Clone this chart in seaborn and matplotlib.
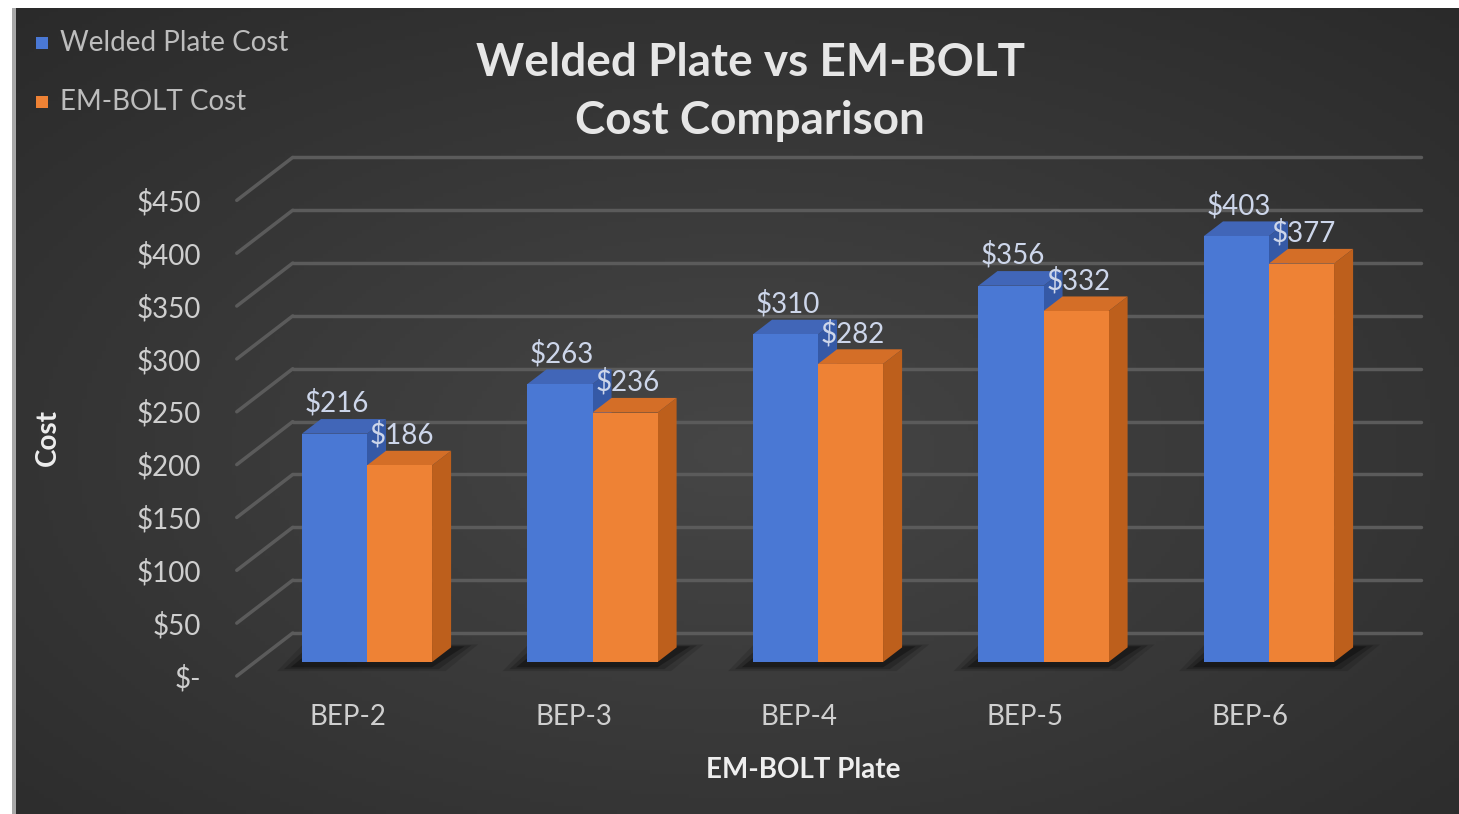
import numpy as np
import pandas as pd
import matplotlib
matplotlib.use("Agg")
import matplotlib.pyplot as plt
import seaborn as sns
from matplotlib.patches import Polygon, Rectangle
from matplotlib.transforms import ScaledTranslation

# ---- data ----
categories = ["BEP-2", "BEP-3", "BEP-4", "BEP-5", "BEP-6"]
welded_cost = [216, 263, 310, 356, 403]
embolt_cost = [186, 236, 282, 332, 377]
series_names = ["Welded Plate Cost", "EM-BOLT Cost"]
y_ticks = [0, 50, 100, 150, 200, 250, 300, 350, 400, 450]

df = pd.DataFrame({
    "Plate": categories * 2,
    "Series": [series_names[0]] * len(categories) + [series_names[1]] * len(categories),
    "Cost": welded_cost + embolt_cost,
})

sns.set_theme(style="white")
plt.rcParams["font.family"] = ["Lato", "DejaVu Sans"]

W, H, DPI = 1459, 814, 100
fig = plt.figure(figsize=(W / DPI, H / DPI), dpi=DPI)
fig.patch.set_facecolor("white")

# ---- background panel with soft radial gradient ----
bg = fig.add_axes([15 / W, 0, 1 - 15 / W, 1 - 8 / H])
bg.set_axis_off()
yy, xx = np.mgrid[0:1:200j, 0:1:300j]
r = np.sqrt(((xx - 0.5) / 0.75) ** 2 + ((yy - 0.45) / 0.75) ** 2)
shade = 0.275 - 0.11 * np.clip(r, 0, 1)
bg.imshow(np.dstack([shade, shade, shade]), aspect="auto", extent=[0, 1, 0, 1], origin="lower")
bg.set_xlim(0, 1)
bg.set_ylim(0, 1)
edge = fig.add_axes([12 / W, 0, 4 / W, 1 - 8 / H])
edge.set_axis_off()
edge.add_patch(Rectangle((0, 0), 1, 1, color="#a8a8a8", transform=edge.transAxes))

# ---- main axes ----
px_left, px_right, px_top, px_bot = 230, 1430, 140, 700
ax = fig.add_axes([px_left / W, (H - px_bot) / H, (px_right - px_left) / W, (px_bot - px_top) / H])
ax.patch.set_alpha(0)
cat_px, px_per_cat, base_px, px_per_usd = 367, 225.5, 662, 1.057

palette = {series_names[0]: "#4a78d4", series_names[1]: "#ee8235"}
side_cols = {series_names[0]: "#3559a6", series_names[1]: "#bd5f1c"}
top_cols = {series_names[0]: "#4166b8", series_names[1]: "#d46e27"}
label_col = "#cdd6ea"

sns.barplot(data=df, x="Plate", y="Cost", hue="Series", palette=palette,
            width=0.577, gap=0, dodge=True, ax=ax, legend=False,
            linewidth=0, saturation=1, err_kws={"linewidth": 0})

ax.set_xlim((px_left - cat_px) / px_per_cat, (px_right - cat_px) / px_per_cat)
ax.set_ylim((base_px - px_bot) / px_per_usd, (base_px - px_top) / px_per_usd)

# 3D depth vector (front -> back of the floor) in data units
depth_dx = 56 / px_per_cat
depth_dy = 43 / px_per_usd
front_frac = 14 / 43          # bar front plane position in depth
bar_frac = 0.34               # bar depth as fraction of full depth

grid_col = "#5b5b5b"
x0 = ax.get_xlim()[0] + 0.03
x_end = ax.get_xlim()[1] - 0.04
for v in y_ticks:
    fy = v - front_frac * depth_dy
    by = v + (1 - front_frac) * depth_dy
    ax.plot([x0, x0 + depth_dx], [fy, by], color=grid_col, lw=2.5, zorder=0.5, solid_capstyle="round")
    ax.plot([x0 + depth_dx, x_end], [by, by], color=grid_col, lw=2.5, zorder=0.5)

bdx = bar_frac * depth_dx
bdy = bar_frac * depth_dy

# shadows under bar pairs
for i in range(len(categories)):
    xl = i - 0.577 / 2
    xr = i + 0.577 / 2
    for k, a in [(0.06, 0.12), (0.03, 0.2), (0.0, 0.3)]:
        poly = Polygon([(xl - 0.05 - k, -5 - k * 60), (xr + k, -5 - k * 60),
                        (xr + bdx + 0.06 + k, bdy + 1 + k * 30), (xl + bdx - 0.02 - k, bdy + 1 + k * 30)],
                       closed=True, facecolor="black", edgecolor="none", alpha=a, zorder=0.8)
        ax.add_patch(poly)

for hi, (container, name) in enumerate(zip(ax.containers, series_names)):
    zbase = 2 + 2 * hi
    for bar in container:
        x = bar.get_x()
        w = bar.get_width()
        h = bar.get_height()
        bar.set_zorder(zbase + 1)
        side = Polygon([(x + w, 0), (x + w + bdx, bdy), (x + w + bdx, h + bdy), (x + w, h)],
                       closed=True, facecolor=side_cols[name], edgecolor="none", zorder=zbase)
        top = Polygon([(x, h), (x + w, h), (x + w + bdx, h + bdy), (x + bdx, h + bdy)],
                      closed=True, facecolor=top_cols[name], edgecolor="none", zorder=zbase)
        ax.add_patch(side)
        ax.add_patch(top)
        ax.text(x + w / 2 + 0.01, h + bdy + 2, f"${h:.0f}", ha="center", va="bottom",
                fontsize=20, color=label_col, zorder=10)

# ticks
ax.set_yticks(y_ticks)
ax.set_yticklabels(["$-" if v == 0 else f"${v}" for v in y_ticks])
ax.tick_params(axis="y", length=0, pad=21, labelsize=20, labelcolor="#cfcfcf")
for lab in ax.get_yticklabels():
    lab.set_transform(lab.get_transform() + ScaledTranslation(0, -14 / DPI, fig.dpi_scale_trans))
ax.tick_params(axis="x", length=0, pad=3, labelsize=20, labelcolor="#cfcfcf")
for lab in ax.get_xticklabels():
    lab.set_transform(lab.get_transform() + ScaledTranslation(-19 / DPI, 0, fig.dpi_scale_trans))
ax.set_xlabel("")
ax.set_ylabel("")
for s in ax.spines.values():
    s.set_visible(False)

# titles and labels
fig.text(750 / W, 1 - 92 / H, "Welded Plate vs EM-BOLT\nCost Comparison", ha="center", va="center",
         fontsize=33, fontweight="bold", color="#e6e6e6", linespacing=1.47)
fig.text(803 / W, 1 - 770 / H, "EM-BOLT Plate", ha="center", va="center",
         fontsize=20, fontweight="bold", color="#eeeeee")
fig.text(48 / W, 1 - 437 / H, "Cost", ha="center", va="center", rotation=90,
         fontsize=20, fontweight="bold", color="#eeeeee")

# legend
for j, name in enumerate(series_names):
    yc = 1 - (43 + 59 * j) / H
    fig.patches.append(Rectangle((36 / W, yc - 6 / H), 12 / W, 12 / H, transform=fig.transFigure,
                                 facecolor=palette[name], edgecolor="none", figure=fig))
    fig.text(60 / W, yc, name, ha="left", va="center", fontsize=20, color="#bdbdbd")

fig.savefig("out.png", dpi=DPI)
